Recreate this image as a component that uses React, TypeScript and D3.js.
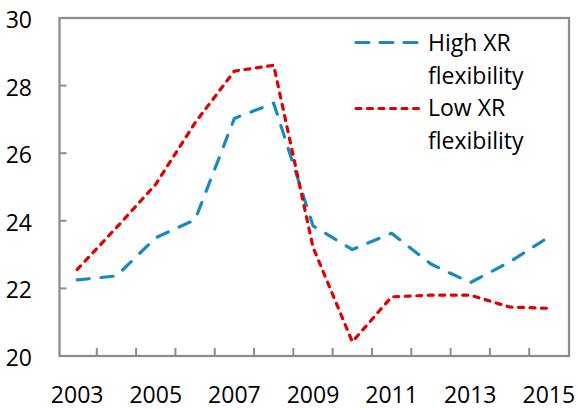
import React from 'react';
import * as d3 from 'd3';

const years = [2003, 2004, 2005, 2006, 2007, 2008, 2009, 2010, 2011, 2012, 2013, 2014, 2015];
const highXR = [22.25, 22.37, 23.5, 24.03, 27.03, 27.48, 23.85, 23.15, 23.63, 22.72, 22.17, 22.78, 23.52];
const lowXR = [22.56, 23.8, 25.08, 26.9, 28.43, 28.6, 23.22, 20.42, 21.75, 21.8, 21.8, 21.45, 21.41];
const yTicks = [20, 22, 24, 26, 28, 30];
const xLabels = [2003, 2005, 2007, 2009, 2011, 2013, 2015];
const seriesNames = ['High XR', 'flexibility', 'Low XR', 'flexibility'];

const W = 579;
const H = 409;
const FONT = '"Open Sans", "Noto Sans", sans-serif';
const AXIS = '#8c8c8c';
const BLUE = '#178bbf';
const RED = '#e00000';

export default function App() {
  const x = d3.scaleBand<number>().domain(years).range([57.5, 568.5]);
  const y = d3.scaleLinear().domain([20, 30]).range([356, 18]);
  const cx = (yr: number) => (x(yr) as number) + x.bandwidth() / 2;
  const line = d3
    .line<number>()
    .x((_, i) => cx(years[i]))
    .y((d) => y(d));
  const left = 59.5;
  const right = 569;
  const top = y(30);
  const bottom = y(20);
  const boundaries = years.slice(1).map((yr) => x(yr) as number);

  return (
    <svg width={W} height={H} style={{ position: 'absolute', left: 0, top: 0 }} fontFamily={FONT}>
      <rect x={0} y={0} width={W} height={H} fill="#fff" />
      {/* plot frame */}
      <rect x={left} y={top} width={right - left} height={bottom - top} fill="none" stroke={AXIS} strokeWidth={2.25} />
      {/* y ticks */}
      {yTicks.slice(1, -1).map((t) => (
        <line key={'yt' + t} x1={left} x2={left + 7} y1={y(t)} y2={y(t)} stroke={AXIS} strokeWidth={2} />
      ))}
      {/* x ticks */}
      {boundaries.map((bx, i) => (
        <line key={'xt' + i} x1={bx} x2={bx} y1={bottom} y2={bottom - 8} stroke={AXIS} strokeWidth={2} />
      ))}
      {/* y labels */}
      {yTicks.map((t) => (
        <text key={'yl' + t} x={32} y={y(t) + 10} textAnchor="end" fontSize={23} fill="#000">
          {t}
        </text>
      ))}
      {/* x labels */}
      {xLabels.map((yr) => (
        <text key={'xl' + yr} x={cx(yr)} y={403} textAnchor="middle" fontSize={23} fill="#000">
          {yr}
        </text>
      ))}
      {/* series */}
      <path d={line(highXR) || ''} fill="none" stroke={BLUE} strokeWidth={3.2} strokeDasharray="12 12" strokeLinecap="round" strokeLinejoin="round" />
      <path d={line(lowXR) || ''} fill="none" stroke={RED} strokeWidth={3.2} strokeDasharray="5 6.5" strokeLinecap="round" strokeLinejoin="round" />
      {/* legend */}
      <line x1={356} x2={420} y1={42.5} y2={42.5} stroke={BLUE} strokeWidth={3.2} strokeDasharray="13 11" strokeLinecap="round" />
      <line x1={356} x2={420} y1={108.5} y2={108.5} stroke={RED} strokeWidth={3.2} strokeDasharray="5 6.5" strokeLinecap="round" />
      {seriesNames.map((s, i) => (
        <text key={'lg' + i} x={428} y={51 + i * 32.5} fontSize={23} fill="#000">
          {s}
        </text>
      ))}
    </svg>
  );
}
